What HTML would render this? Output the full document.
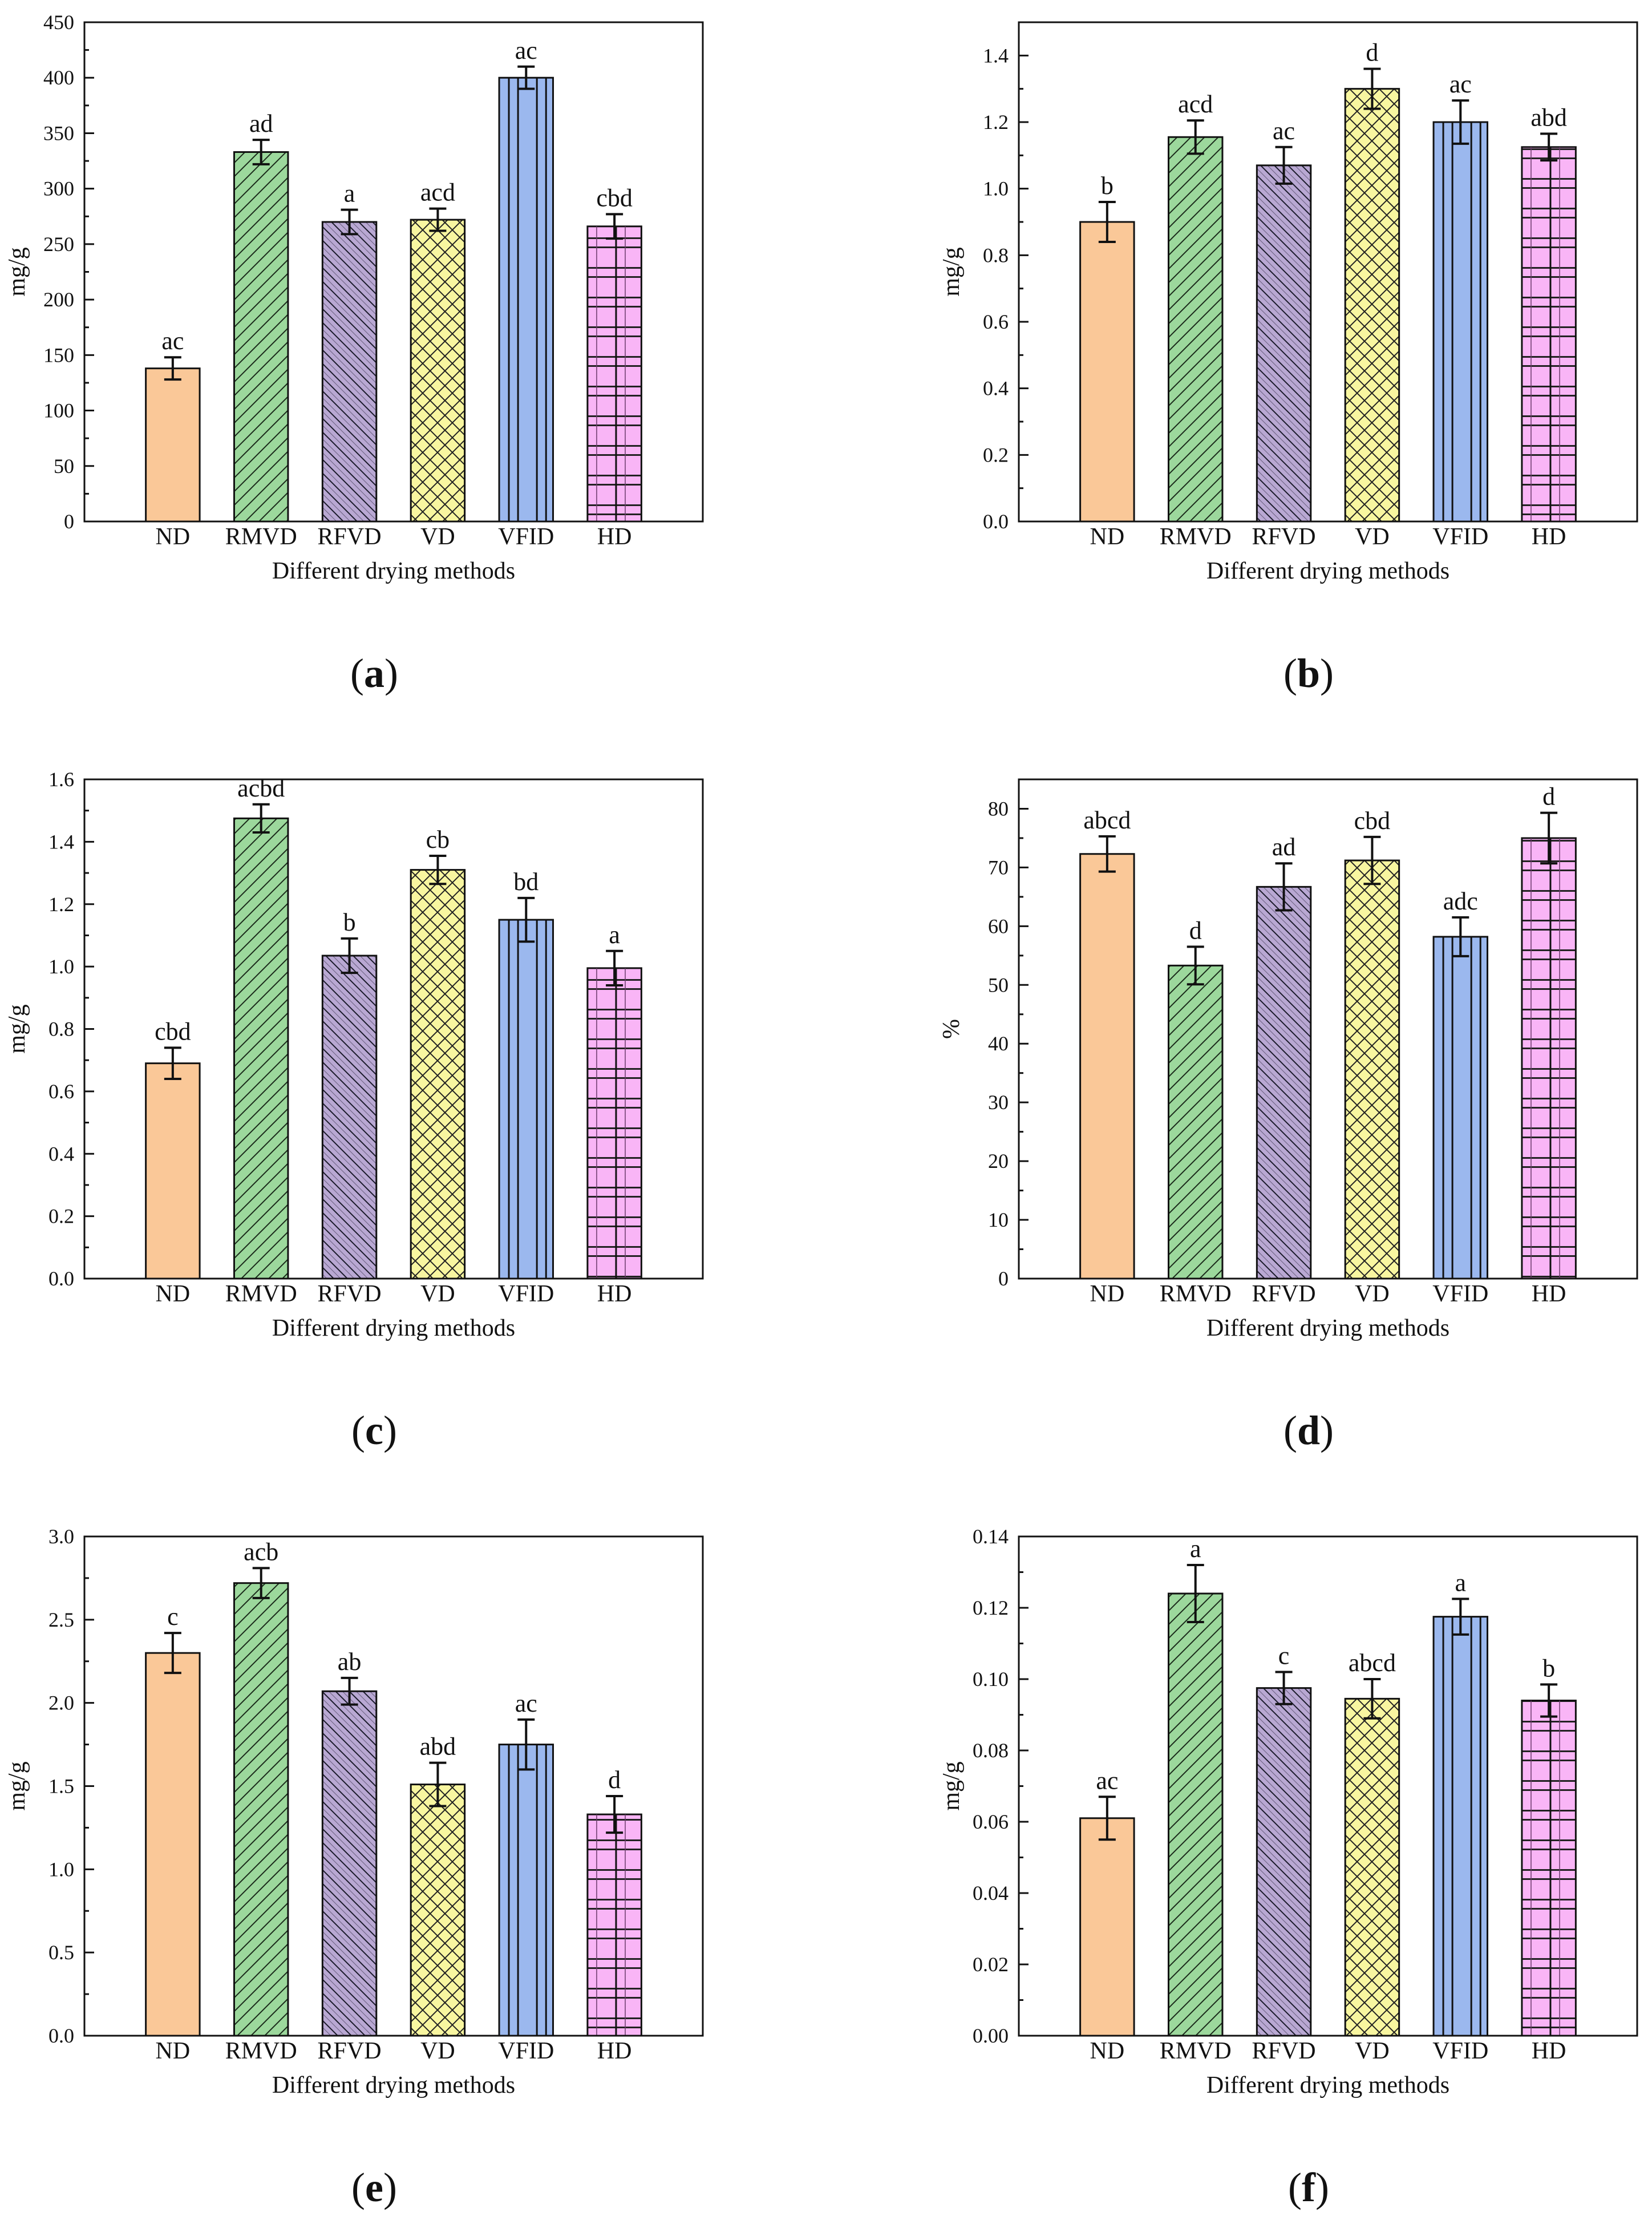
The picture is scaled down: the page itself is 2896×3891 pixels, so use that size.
<!DOCTYPE html>
<html><head><meta charset="utf-8"><style>
body{margin:0;background:#fff}
svg{display:block}
text{font-family:"Liberation Serif",serif;fill:#111}
</style></head><body>
<svg id="fig" width="2896" height="3891" viewBox="0 0 2896 3891" xmlns="http://www.w3.org/2000/svg">
<defs>
<pattern id="pRMVD" patternUnits="userSpaceOnUse" width="24" height="24"><rect width="24" height="24" fill="#9cd89c"/><path d="M-6,6 L6,-6 M0,24 L24,0 M18,30 L30,18" stroke="#1a2a1a" stroke-width="2"/></pattern>
<pattern id="pRFVD" patternUnits="userSpaceOnUse" width="24" height="24"><rect width="24" height="24" fill="#b9a8d3"/><path d="M-6,18 L6,30 M0,0 L24,24 M18,-6 L30,6" stroke="#1a1a2a" stroke-width="2"/><path d="M-6,6 L18,30 M6,-6 L30,18" stroke="#6a6080" stroke-width="1"/></pattern>
<pattern id="pVD" patternUnits="userSpaceOnUse" width="26" height="26"><rect width="26" height="26" fill="#f8f6a0"/><path d="M0,0 L26,26 M-6,20 L6,32 M20,-6 L32,6 M0,26 L26,0 M-6,6 L6,-6 M20,32 L32,20" stroke="#222" stroke-width="2"/></pattern>
<pattern id="pHD" patternUnits="userSpaceOnUse" width="52" height="52"><rect width="52" height="52" fill="#f9b5f6"/><path d="M0,1.5 H52 M0,17.5 H52" stroke="#222" stroke-width="3"/></pattern>
</defs>
<g id="panels"></g>
</svg>
<script>
const categories = ["ND","RMVD","RFVD","VD","VFID","HD"];
const valuesA = [138,333,270,272,400,266];
const errorsA = [10,11,11,10,10,11];
const lettersA = ["ac","ad","a","acd","ac","cbd"];
const ticksA = [0,50,100,150,200,250,300,350,400,450];
const valuesB = [0.90,1.155,1.07,1.30,1.20,1.125];
const errorsB = [0.06,0.05,0.055,0.06,0.065,0.04];
const lettersB = ["b","acd","ac","d","ac","abd"];
const ticksB = [0.0,0.2,0.4,0.6,0.8,1.0,1.2,1.4];
const valuesC = [0.69,1.475,1.035,1.31,1.15,0.995];
const errorsC = [0.05,0.045,0.055,0.045,0.07,0.055];
const lettersC = ["cbd","acbd","b","cb","bd","a"];
const ticksC = [0.0,0.2,0.4,0.6,0.8,1.0,1.2,1.4,1.6];
const valuesD = [72.3,53.3,66.7,71.2,58.2,75.0];
const errorsD = [3,3.2,4,4,3.3,4.3];
const lettersD = ["abcd","d","ad","cbd","adc","d"];
const ticksD = [0,10,20,30,40,50,60,70,80];
const valuesE = [2.30,2.72,2.07,1.51,1.75,1.33];
const errorsE = [0.12,0.09,0.08,0.13,0.15,0.11];
const lettersE = ["c","acb","ab","abd","ac","d"];
const ticksE = [0.0,0.5,1.0,1.5,2.0,2.5,3.0];
const valuesF = [0.061,0.124,0.0975,0.0945,0.1175,0.094];
const errorsF = [0.006,0.008,0.0045,0.0055,0.005,0.0045];
const lettersF = ["ac","a","c","abcd","a","b"];
const ticksF = [0.00,0.02,0.04,0.06,0.08,0.10,0.12,0.14];

const NS="http://www.w3.org/2000/svg";
const root=document.getElementById("panels");
function mk(tag,attrs,parent){const e=document.createElementNS(NS,tag);for(const k in attrs)e.setAttribute(k,attrs[k]);(parent||root).appendChild(e);return e;}
const fills=["#fac898","url(#pRMVD)","url(#pRFVD)","url(#pVD)","#9bb8ee","url(#pHD)"];

const panels=[
 {id:"a",vals:valuesA,errs:errorsA,lets:lettersA,ticks:ticksA,max:450,dec:0,yt:"mg/g",col:0,row:0},
 {id:"b",vals:valuesB,errs:errorsB,lets:lettersB,ticks:ticksB,max:1.5,dec:1,yt:"mg/g",col:1,row:0},
 {id:"c",vals:valuesC,errs:errorsC,lets:lettersC,ticks:ticksC,max:1.6,dec:1,yt:"mg/g",col:0,row:1},
 {id:"d",vals:valuesD,errs:errorsD,lets:lettersD,ticks:ticksD,max:85,dec:0,yt:"%",col:1,row:1},
 {id:"e",vals:valuesE,errs:errorsE,lets:lettersE,ticks:ticksE,max:3.0,dec:1,yt:"mg/g",col:0,row:2},
 {id:"f",vals:valuesF,errs:errorsF,lets:lettersF,ticks:ticksF,max:0.14,dec:2,yt:"mg/g",col:1,row:2}
];
const W=1084,H=875;
panels.forEach(p=>{
  const L=[148,1786][p.col], T=[39,1366,2693][p.row], B=T+H;
  const g=mk("g",{});
  
  
  const y=v=>B-v/p.max*H;
  const xc=i=>L+(i+1)*W/7;
  const bw=W/7*0.61;
  // bars
  p.vals.forEach((v,i)=>{
    const x0=xc(i)-bw/2, yt=y(v);
    const r=mk("rect",{x:x0,y:yt,width:bw,height:B-yt,fill:fills[i],stroke:"#111","stroke-width":3},g);
    
    
    if(i===4){[0.18,0.35,0.7,0.87].forEach(f=>mk("line",{x1:x0+f*bw,x2:x0+f*bw,y1:yt,y2:B,stroke:"#111","stroke-width":3},g));}
    if(i===5){[[0.17,1.5,"#6a3a6a"],[0.53,3,"#111"],[0.7,1.5,"#6a3a6a"]].forEach(a=>mk("line",{x1:x0+a[0]*bw,x2:x0+a[0]*bw,y1:yt,y2:B,stroke:a[2],"stroke-width":a[1]},g));}
    // error bar
    const e=p.errs[i], yh=y(v+e), yl=y(v-e), cx=xc(i);
    const eb=mk("path",{d:`M${cx},${yh}V${yl}M${cx-15},${yh}H${cx+15}M${cx-15},${yl}H${cx+15}`,stroke:"#111","stroke-width":4,fill:"none"},g);
    
    
    const t=mk("text",{x:cx,y:yh-14,"text-anchor":"middle","font-size":44},g);
    t.textContent=p.lets[i];
    
    
    const c=mk("text",{x:cx,y:B+40,"text-anchor":"middle","font-size":42},g);
    c.textContent=categories[i];
    
    
  });
  // frame
  const fr=mk("rect",{x:L,y:T,width:W,height:H,fill:"none",stroke:"#111","stroke-width":3},g);
  
  
  // ticks
  const step=p.ticks[1]-p.ticks[0];
  p.ticks.forEach((v,k)=>{
    const yy=y(v);
    mk("line",{x1:L,x2:L+17,y1:yy,y2:yy,stroke:"#111","stroke-width":3},g);
    const m=v+step/2;
    if(m<p.max) mk("line",{x1:L,x2:L+8,y1:y(m),y2:y(m),stroke:"#111","stroke-width":3},g);
    const tl=mk("text",{x:L-18,y:yy+12,"text-anchor":"end","font-size":36},g);
    tl.textContent=v.toFixed(p.dec);
    
    
  });
  const xt=mk("text",{x:L+W/2,y:B+100,"text-anchor":"middle","font-size":42},g);
  xt.textContent="Different drying methods";
  
  
  const yx=L-105, yy=T+H/2;
  const ytt=mk("text",{x:yx,y:yy,"text-anchor":"middle","font-size":42,transform:`rotate(-90 ${yx} ${yy})`},g);
  ytt.textContent=p.yt;
  
  
  const pl=mk("text",{x:L+508,y:B+290,"text-anchor":"middle","font-size":72},g);
  pl.innerHTML='(<tspan font-weight="bold">'+p.id+'</tspan>)';
  
  
});
</script>
</body></html>
